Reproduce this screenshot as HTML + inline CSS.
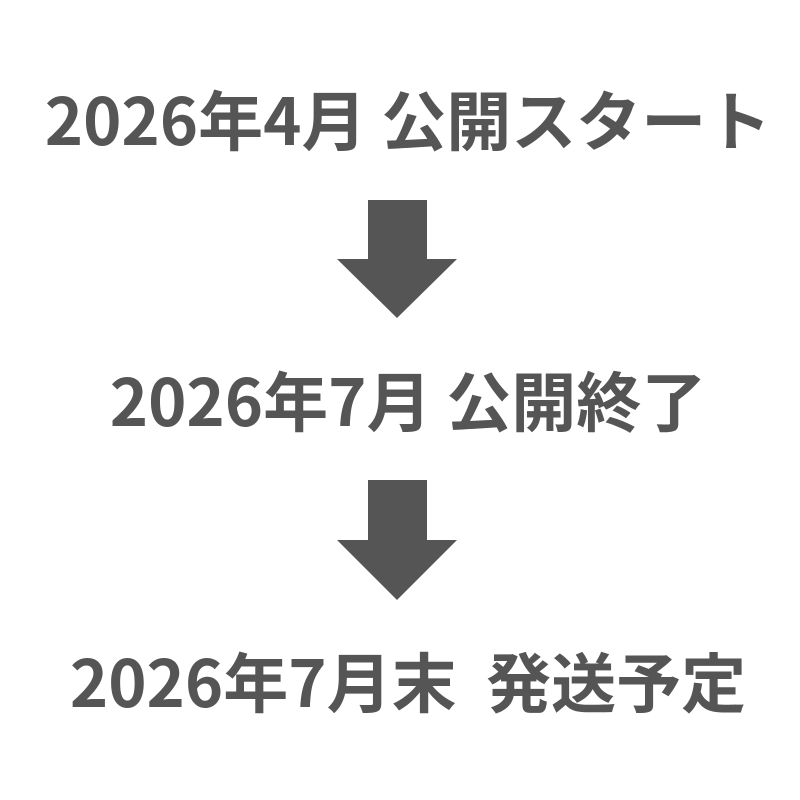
<!DOCTYPE html>
<html><head><meta charset="utf-8"><style>
html,body{margin:0;padding:0;background:#fff;}
body{width:800px;height:800px;position:relative;overflow:hidden;}
.t{position:absolute;left:8px;width:800px;text-align:center;font-family:"Noto Sans CJK JP",sans-serif;font-weight:700;font-size:65px;color:#555;line-height:1;white-space:nowrap;}
</style></head><body>
<div class="t" style="top:85px;">2026年4月 公開スタート</div>
<div class="t" style="top:366px;">2026年7月 公開終了</div>
<div class="t" style="top:647px;">2026年7月末&nbsp;&nbsp;発送予定</div>
<svg width="800" height="800" style="position:absolute;left:0;top:0">
<polygon fill="#555" points="368,200 427,200 427,259 457,259 397,318 337,259 368,259"/>
<polygon fill="#555" points="368,480 427,480 427,540 457,540 397,600 337,540 368,540"/>
</svg>
</body></html>
